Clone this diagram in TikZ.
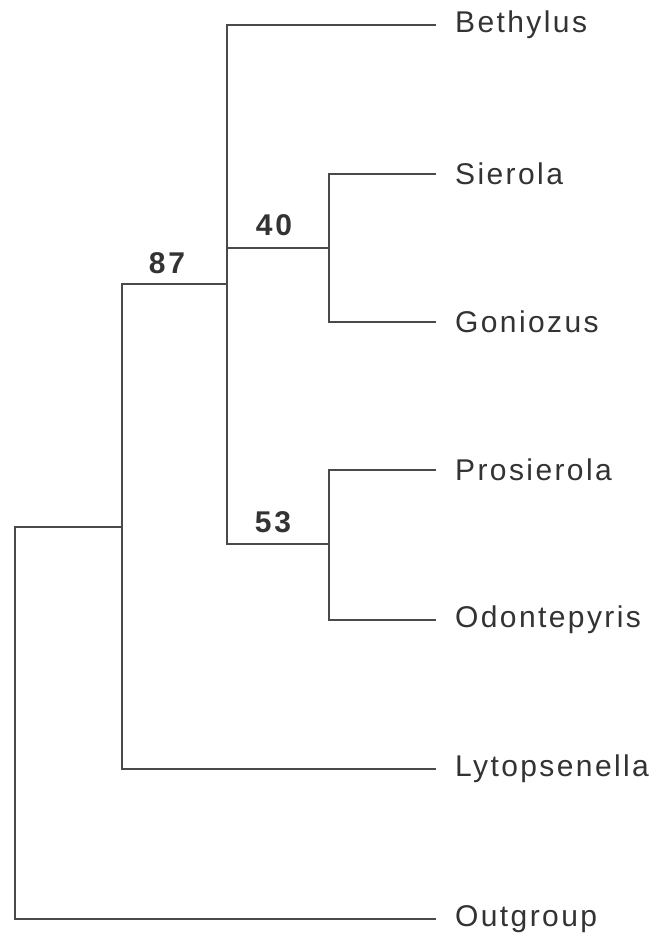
\documentclass[tikz,border=0pt]{standalone}
\usepackage{fontspec}
\usepackage{tikz}
\usetikzlibrary{positioning,calc}
\newfontfamily\taxonfont[LetterSpace=8]{Liberation Sans}
\newfontfamily\suppfont[LetterSpace=10]{Liberation Sans Bold}
\definecolor{labgray}{HTML}{333333}
\definecolor{linegray}{HTML}{4A4A4A}

\begin{document}
\begin{tikzpicture}[x=1pt,y=-1pt,
  leaf/.style={anchor=mid west,inner sep=0pt,text=labgray,font=\taxonfont\fontsize{30}{32}\selectfont},
  supp/.style={anchor=base,inner sep=0pt,text=labgray,font=\suppfont\fontsize{30}{32}\selectfont},
  branch/.style={draw=linegray,line width=1.4pt,line cap=rect}]
\useasboundingbox[fill=white] (0,0) rectangle (659,934);
% leaf tips
\coordinate (tBet) at (435,25);  \coordinate (tSie) at (435,174);
\coordinate (tGon) at (435,322); \coordinate (tPro) at (435,470);
\coordinate (tOdo) at (435,620); \coordinate (tLyt) at (435,769);
\coordinate (tOut) at (435,919);
\foreach \t/\n in {Bet/Bethylus,Sie/Sierola,Gon/Goniozus,Pro/Prosierola,Odo/Odontepyris,Lyt/Lytopsenella,Out/Outgroup}{
  \node[leaf,right=20pt of t\t] (\t) {\n};}
% internal nodes
\coordinate (nA) at (329,248); \coordinate (nB) at (329,544);
\coordinate (nC) at (227,284); \coordinate (nD) at (122,527);
\coordinate (nR) at (15,919);
\draw[branch] (tSie) -| (nA) |- (tGon);
\draw[branch] (tPro) -| (nB) |- (tOdo);
\draw[branch] (tBet) -| (nC) |- (nB);
\draw[branch] (nA) -- (nA -| nC);
\draw[branch] (nC) -| (nD) |- (tLyt);
\draw[branch] (nD) -| (nR) -- (tOut);
% support values
\node[supp] (s40) at (274,235) {40};
\node[supp] (s87) at (167,273) {87};
\node[supp] (s53) at (273,532) {53};
\end{tikzpicture}
\end{document}
